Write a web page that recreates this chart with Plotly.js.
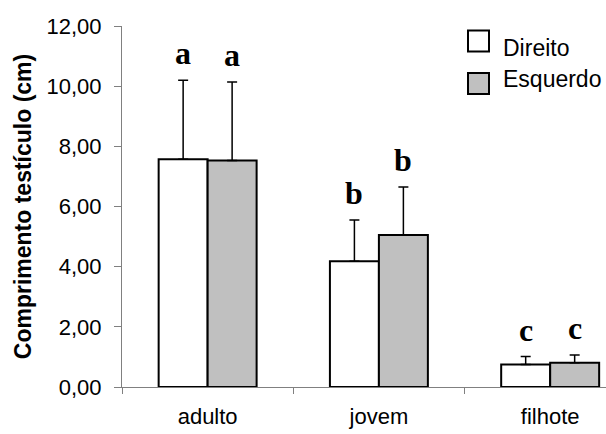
<!DOCTYPE html>
<html>
<head>
<meta charset="utf-8">
<script src="https://cdn.plot.ly/plotly-3.0.1.min.js"></script>
<style>html,body{margin:0;padding:0;background:#fff;}#chart{width:606px;height:434px;}</style>
</head>
<body>
<div id="chart"></div>
<script>
// ---- data ----
const categories = ["adulto", "jovem", "filhote"];
const direito = [7.57, 4.18, 0.75];
const direitoErr = [2.63, 1.37, 0.26];
const esquerdo = [7.53, 5.05, 0.81];
const esquerdoErr = [2.61, 1.60, 0.25];
const direitoLetters = ["a", "b", "c"];
const esquerdoLetters = ["a", "b", "c"];
const seriesNames = ["Direito", "Esquerdo"];
const yTicks = [0, 2, 4, 6, 8, 10, 12];

// ---- layout helpers ----
const W = 606, H = 434, ML = 122, MR = 0, MT = 26, MB = 47;
const pw = W - ML - MR, ph = H - MT - MB;
const px = x => (x - ML) / pw;
const py = y => (H - MB - y) / ph;

const sans = "Liberation Sans, Arial, sans-serif";
const serif = "Liberation Serif, Times New Roman, serif";

function errTrace(name, vals, errs, fill) {
  return {
    type: "bar", name: name, x: categories, y: vals,
    marker: {color: fill, line: {color: "#000", width: 2}},
    error_y: {type: "data", symmetric: false, array: errs, arrayminus: errs.map(() => 0),
              color: "#000", thickness: 1.5, width: 5},
    showlegend: false, hoverinfo: "skip"
  };
}

const traces = [
  errTrace(seriesNames[0], direito, direitoErr, "#ffffff"),
  errTrace(seriesNames[1], esquerdo, esquerdoErr, "#c0c0c0")
];

// letter annotations above the error bars
const annotations = [];
categories.forEach((c, i) => {
  annotations.push({x: i, xshift: -24.5, y: direito[i] + direitoErr[i], yanchor: "bottom", yshift: 7,
    text: "<b>" + direitoLetters[i] + "</b>", showarrow: false,
    font: {family: serif, size: 32, color: "#000"}});
  annotations.push({x: i, xshift: 24.5, y: esquerdo[i] + esquerdoErr[i], yanchor: "bottom", yshift: 7,
    text: "<b>" + esquerdoLetters[i] + "</b>", showarrow: false,
    font: {family: serif, size: 32, color: "#000"}});
});

// custom legend
const shapes = [
  {type: "rect", xref: "paper", yref: "paper", x0: px(468), x1: px(489), y0: py(51.5), y1: py(30.5),
   fillcolor: "#ffffff", line: {color: "#000", width: 2}},
  {type: "rect", xref: "paper", yref: "paper", x0: px(468), x1: px(489), y0: py(94), y1: py(73),
   fillcolor: "#c0c0c0", line: {color: "#000", width: 2}}
];
annotations.push({xref: "paper", yref: "paper", x: px(501), y: py(48.5), xanchor: "left", yanchor: "middle",
  text: seriesNames[0], showarrow: false, font: {family: sans, size: 23, color: "#000"}});
annotations.push({xref: "paper", yref: "paper", x: px(501), y: py(78.5), xanchor: "left", yanchor: "middle",
  text: seriesNames[1], showarrow: false, font: {family: sans, size: 23, color: "#000"}});

const layout = {
  width: W, height: H,
  margin: {l: ML, r: MR, t: MT, b: MB, pad: 0},
  paper_bgcolor: "#fff", plot_bgcolor: "#fff",
  separators: ",.",
  barmode: "group", bargap: 0.428, bargroupgap: 0,
  showlegend: false,
  xaxis: {
    type: "category", range: [-0.5, 2.326],
    showline: true, linecolor: "#808080", linewidth: 1,
    ticks: "outside", tickson: "boundaries", ticklen: 6, tickcolor: "#808080",
    showgrid: false, zeroline: false,
    tickfont: {family: sans, size: 22, color: "#000"},
    ticklabelstandoff: 10, fixedrange: true
  },
  yaxis: {
    range: [0, 12], tickvals: yTicks, tickformat: ".2f",
    showline: true, linecolor: "#808080", linewidth: 1,
    ticks: "outside", ticklen: 7, tickcolor: "#808080",
    showgrid: false, zeroline: false,
    tickfont: {family: sans, size: 22, color: "#000"},
    ticklabelstandoff: 8,
    title: {text: "<b>Comprimento testículo (cm)</b>", font: {family: sans, size: 23, color: "#000"}, standoff: 8},
    fixedrange: true
  },
  annotations: annotations,
  shapes: shapes
};

Plotly.newPlot("chart", traces, layout, {displayModeBar: false, staticPlot: true});
</script>
</body>
</html>
